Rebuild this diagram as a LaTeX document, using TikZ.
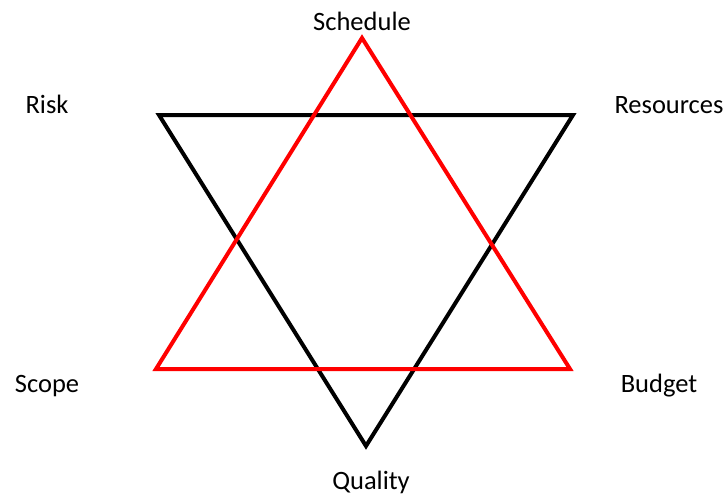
\documentclass[tikz,border=0pt]{standalone}
\usepackage{fontspec}
\setmainfont{Carlito}
\begin{document}
\begin{tikzpicture}[x=1pt,y=-1pt,
  tri/.style={line width=4pt, line join=miter},
  lbl/.style={font=\fontsize{26.5}{31}\selectfont, inner sep=0pt}]
\useasboundingbox (0,0) rectangle (728,495);
\coordinate (rt) at (362,38);
\coordinate (rl) at (156,369);
\coordinate (rr) at (570,369);
\coordinate (bl) at (159,115);
\coordinate (br) at (573,115);
\coordinate (bb) at (366,446);
\draw[tri, black] (bl) -- (br) -- (bb) -- cycle;
\draw[tri, red] (rt) -- (rr) -- (rl) -- cycle;
\node[lbl] (schedule) at (362,21) {Schedule};
\node[lbl] (risk) at (47,104) {Risk};
\node[lbl] (resources) at (669,105) {Resources};
\node[lbl] (scope) at (47,386) {Scope};
\node[lbl] (budget) at (659,386) {Budget};
\node[lbl] (quality) at (371,482) {Quality};
\end{tikzpicture}
\end{document}
